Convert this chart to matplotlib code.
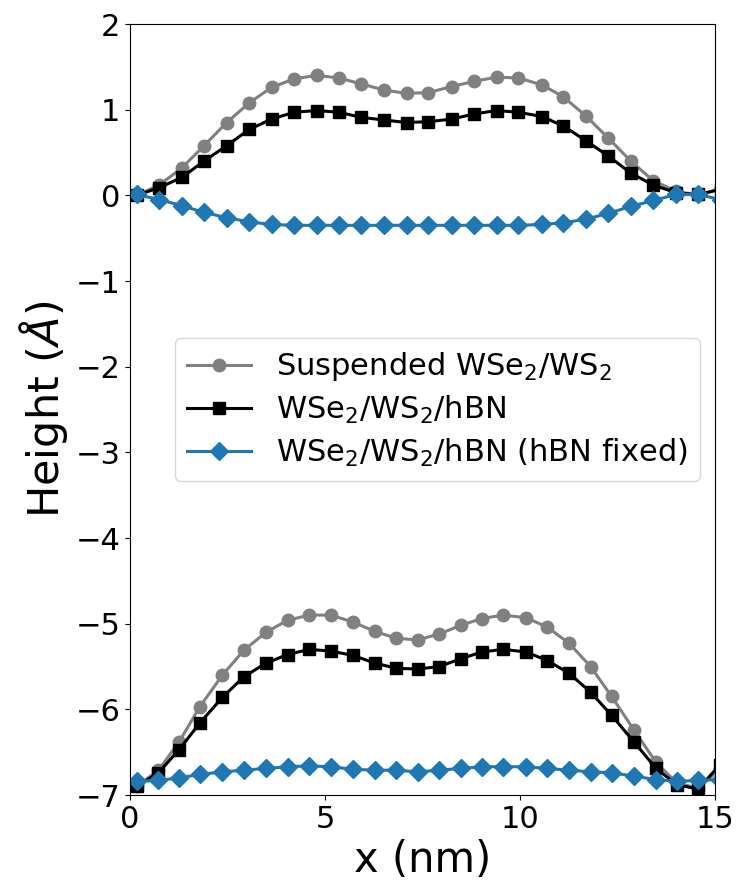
import matplotlib
matplotlib.use("Agg")
import matplotlib.pyplot as plt

# upper profiles (x in nm, height in Angstrom)
x_top = [0.17, 0.75, 1.33, 1.90, 2.48, 3.06, 3.63, 4.21, 4.79, 5.36, 5.93, 6.51, 7.09, 7.65,
         8.25, 8.82, 9.40, 9.96, 10.56, 11.11, 11.68, 12.26, 12.84, 13.42, 14.00, 14.57, 15.15]
susp_top = [0.00, 0.12, 0.32, 0.58, 0.85, 1.08, 1.26, 1.36, 1.40, 1.37, 1.30, 1.23, 1.19, 1.20,
            1.27, 1.33, 1.38, 1.37, 1.29, 1.15, 0.93, 0.67, 0.40, 0.17, 0.05, 0.00, 0.08]
hbn_top = [0.00, 0.09, 0.21, 0.40, 0.58, 0.77, 0.89, 0.97, 0.99, 0.97, 0.91, 0.88, 0.85, 0.86,
           0.89, 0.95, 0.99, 0.97, 0.92, 0.81, 0.64, 0.46, 0.26, 0.12, 0.03, 0.01, 0.07]
fixed_top = [0.01, -0.05, -0.12, -0.20, -0.26, -0.31, -0.34, -0.35, -0.35, -0.35, -0.35, -0.35, -0.35, -0.35,
             -0.35, -0.35, -0.35, -0.35, -0.34, -0.32, -0.28, -0.21, -0.13, -0.06, 0.01, 0.01, -0.05]

# lower profiles
x_bot = [0.17, 0.73, 1.26, 1.79, 2.37, 2.92, 3.49, 4.04, 4.60, 5.15, 5.71, 6.28, 6.82, 7.38,
         7.93, 8.48, 9.02, 9.57, 10.15, 10.70, 11.26, 11.81, 12.35, 12.92, 13.49, 14.02, 14.57, 15.12]
susp_bot = [-6.90, -6.71, -6.38, -5.97, -5.60, -5.31, -5.10, -4.96, -4.90, -4.90, -4.98, -5.09, -5.17, -5.19,
            -5.12, -5.02, -4.94, -4.90, -4.93, -5.04, -5.23, -5.50, -5.85, -6.24, -6.62, -6.86, -6.92, -6.70]
hbn_bot = [-6.90, -6.74, -6.47, -6.16, -5.86, -5.62, -5.46, -5.36, -5.30, -5.32, -5.37, -5.46, -5.52, -5.53,
           -5.50, -5.41, -5.33, -5.30, -5.33, -5.43, -5.58, -5.80, -6.07, -6.38, -6.69, -6.88, -6.93, -6.65]
fixed_bot = [-6.84, -6.83, -6.80, -6.76, -6.73, -6.71, -6.69, -6.67, -6.66, -6.67, -6.70, -6.71, -6.71, -6.73,
             -6.71, -6.69, -6.67, -6.67, -6.67, -6.69, -6.71, -6.73, -6.74, -6.78, -6.82, -6.84, -6.83, -6.82]

labels = ['Suspended WSe$_2$/WS$_2$', 'WSe$_2$/WS$_2$/hBN', 'WSe$_2$/WS$_2$/hBN (hBN fixed)']

fig = plt.figure(figsize=(7.36, 8.86), dpi=100)
ax = fig.add_axes([0.1766, 0.1027, 0.7949, 0.8702])

styles = [('gray', 'o'), ('black', 's'), ('#1f77b4', 'D')]
tops = [susp_top, hbn_top, fixed_top]
bots = [susp_bot, hbn_bot, fixed_bot]
for (c, m), yt, yb, lab in zip(styles, tops, bots, labels):
    ax.plot(x_top, yt, color=c, marker=m, ms=9, lw=2.2, label=lab)
    ax.plot(x_bot, yb, color=c, marker=m, ms=9, lw=2.2)

ax.set_xlim(0, 15)
ax.set_ylim(-7, 2)
ax.set_xticks([0, 5, 10, 15])
ax.set_yticks(range(-7, 3))
ax.tick_params(labelsize=22)
ax.set_xlabel('x (nm)', fontsize=30)
ax.set_ylabel(r'Height ($\AA$)', fontsize=31)
ax.legend(loc='center right', fontsize=22, numpoints=1, labelspacing=0.35,
          handlelength=2.1)

fig.savefig('out.png', dpi=100)
